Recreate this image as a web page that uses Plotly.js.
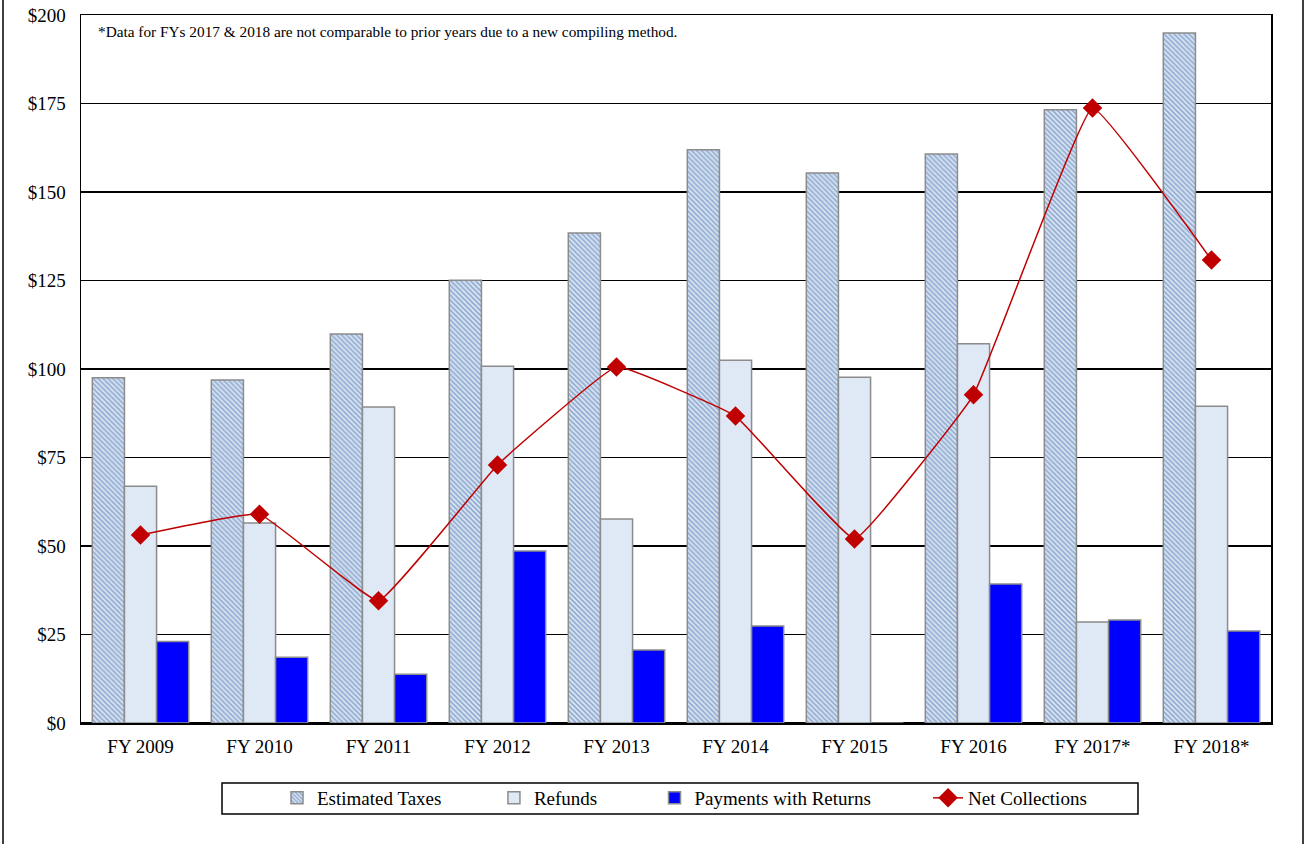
<!DOCTYPE html>
<html>
<head>
<meta charset="utf-8">
<script src="https://cdn.plot.ly/plotly-3.0.1.min.js"></script>
<style>
html,body{margin:0;padding:0;background:#fff;}
#chart{width:1305px;height:844px;}
</style>
</head>
<body>
<div id="chart"></div>
<script>
const categories = ["FY 2009","FY 2010","FY 2011","FY 2012","FY 2013","FY 2014","FY 2015","FY 2016","FY 2017*","FY 2018*"];
const estimatedTaxes = [97.5, 96.9, 109.9, 125.1, 138.4, 161.9, 155.4, 160.7, 173.2, 194.9];
const refunds = [66.9, 56.5, 89.3, 100.8, 57.6, 102.5, 97.7, 107.1, 28.5, 89.5];
const paymentsWithReturns = [23.0, 18.6, 13.8, 48.6, 20.6, 27.4, -0.6, 39.3, 29.1, 26.0];
const netCollections = [53.1, 59.0, 34.5, 72.9, 100.6, 86.7, 52.0, 92.7, 173.7, 130.8];
const yTickVals = [0, 25, 50, 75, 100, 125, 150, 175, 200];
const yTickText = ["$0","$25","$50","$75","$100","$125","$150","$175","$200"];
const seriesNames = ["Estimated Taxes", "Refunds", "Payments with Returns", "Net Collections"];
const noteText = "*Data for FYs 2017 & 2018 are not comparable to prior years due to a new compiling method.";

const FONT = "Liberation Serif, Times New Roman, serif";
const barLine = {color: "#8c8c8c", width: 1.5};
const pad = n => "\u00a0".repeat(n);

const traces = [
  {type: "bar", name: seriesNames[0] + pad(10), x: categories, y: estimatedTaxes,
   marker: {color: "#c6d6ea", line: barLine,
            pattern: {shape: "\\", bgcolor: "#dbe5f1", fgcolor: "#8eaad2", size: 3.5, solidity: 0.45}}},
  {type: "bar", name: seriesNames[1] + pad(11), x: categories, y: refunds,
   marker: {color: "#dfe8f5", line: barLine}},
  {type: "bar", name: seriesNames[2] + pad(11), x: categories, y: paymentsWithReturns,
   marker: {color: "#0000ff", line: barLine}},
  {type: "scatter", mode: "lines+markers", name: seriesNames[3], x: categories, y: netCollections,
   line: {color: "#c00000", width: 1.5, shape: "spline", smoothing: 0.25},
   marker: {symbol: "diamond", size: 15, color: "#c00000"}}
];

const L = 81, R = 1271, T = 15, B = 723;
const px = v => (v - L) / (R - L);
const py = v => (B - v) / (B - T);

const layout = {
  width: 1305, height: 844,
  margin: {l: L, r: 1305 - R, t: T, b: 844 - B},
  paper_bgcolor: "#fff", plot_bgcolor: "#fff",
  font: {family: FONT, size: 19, color: "#000"},
  barmode: "group", bargap: 0.19, bargroupgap: 0,
  showlegend: true,
  legend: {orientation: "h", x: px(277), xanchor: "left", y: py(798), yanchor: "middle",
           borderwidth: 0, bgcolor: "rgba(0,0,0,0)",
           font: {family: FONT, size: 19, color: "#000"}},
  xaxis: {type: "category", range: [-0.5, 9.5], showgrid: false, showline: true, linecolor: "#000", linewidth: 1.5, mirror: true,
          ticks: "", tickfont: {family: FONT, size: 19}, ticklabelstandoff: 6},
  yaxis: {range: [0, 200], tickvals: yTickVals, ticktext: yTickText, showgrid: true, gridcolor: "#000", gridwidth: 1.2,
          showline: true, linecolor: "#000", linewidth: 1.5, mirror: true, zeroline: true, zerolinecolor: "#000", zerolinewidth: 2,
          ticks: "", tickfont: {family: FONT, size: 19}, ticklabelstandoff: 10, fixedrange: true},
  annotations: [
    {text: noteText, xref: "paper", yref: "paper", x: px(96), y: py(32), xanchor: "left", yanchor: "middle",
     showarrow: false, font: {family: FONT, size: 15.3, color: "#000"}}
  ],
  shapes: [
    {type: "line", xref: "paper", yref: "paper", x0: px(3), x1: px(3), y0: py(0), y1: py(844), line: {color: "#000", width: 1.5}},
    {type: "line", xref: "paper", yref: "paper", x0: px(1303), x1: px(1303), y0: py(0), y1: py(844), line: {color: "#000", width: 1.5}},
    {type: "rect", xref: "paper", yref: "paper", x0: px(222), x1: px(1138), y0: py(783), y1: py(814), line: {color: "#000", width: 1.5}}
  ]
};

Plotly.newPlot("chart", traces, layout, {displayModeBar: false, staticPlot: true});
</script>
</body>
</html>
